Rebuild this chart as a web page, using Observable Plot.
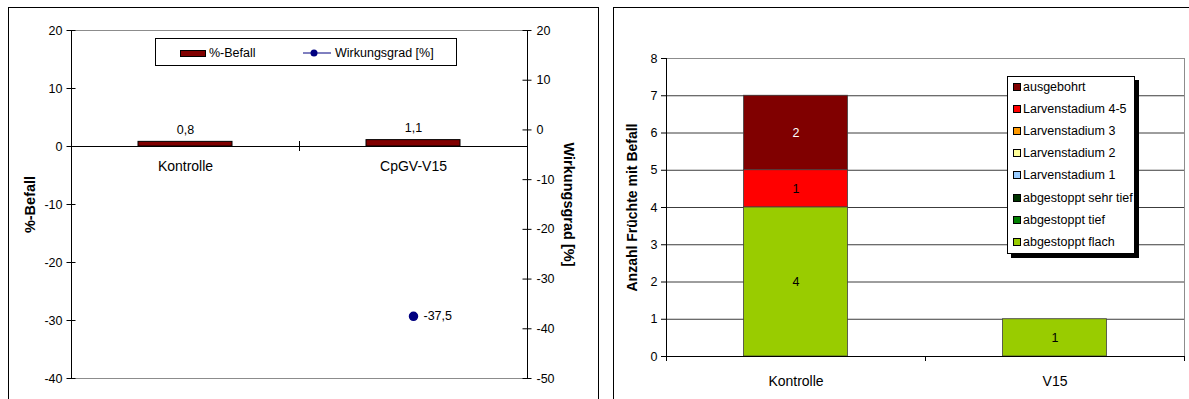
<!DOCTYPE html>
<html>
<head>
<meta charset="utf-8">
<script src="https://cdn.jsdelivr.net/npm/d3@7"></script>
<script src="https://cdn.jsdelivr.net/npm/@observablehq/plot@0.6"></script>
<style>
  body { margin: 0; background: #fff; font-family: "Liberation Sans", Arial, sans-serif; color: #000; }
  #wrap { position: relative; width: 1189px; height: 399px; overflow: hidden; background: #fff; }
  .panel { position: absolute; border: 1px solid #000; box-sizing: border-box; background: #fff; }
  .chart { position: absolute; }
  .legend { position: absolute; background: #fff; border: 1px solid #000; box-sizing: border-box; font-size: 12.5px; }
  .legend .item { position: absolute; white-space: nowrap; line-height: 14px; }
  .legend .sw { position: absolute; box-sizing: border-box; border: 1px solid #000; }
</style>
</head>
<body>
<div id="wrap"></div>
<script>
// %-Befall and Wirkungsgrad per variant
const categories1 = ["Kontrolle", "CpGV-V15"];
const befall = [0.8, 1.1];
const wirkungsgrad = [null, -37.5];
const leftTicks = [20, 10, 0, -10, -20, -30, -40];
const rightTicks = [20, 10, 0, -10, -20, -30, -40, -50];

// fruit counts per damage class
const categories2 = ["Kontrolle", "V15"];
const stages = ["ausgebohrt", "Larvenstadium 4-5", "Larvenstadium 3", "Larvenstadium 2",
                "Larvenstadium 1", "abgestoppt sehr tief", "abgestoppt tief", "abgestoppt flach"];
const stageColors = ["#800000", "#ff0000", "#ff9900", "#ffff99", "#99ccff", "#003300", "#008000", "#99cc00"];
const countsKontrolle = [2, 1, 0, 0, 0, 0, 0, 4];
const countsV15 = [0, 0, 0, 0, 0, 0, 0, 1];
const countTicks = [0, 1, 2, 3, 4, 5, 6, 7, 8];

const font = "'Liberation Sans', Arial, sans-serif";
const tickFont = 12.5;
const comma = (v) => String(v).replace(".", ",");
const wrap = document.getElementById("wrap");

function place(node, left, top) {
  node.classList.add("chart");
  node.style.left = left + "px";
  node.style.top = top + "px";
  wrap.appendChild(node);
}
function panel(left, top, width, height) {
  const p = document.createElement("div");
  p.className = "panel";
  Object.assign(p.style, {left: left + "px", top: top + "px", width: width + "px", height: height + "px"});
  wrap.appendChild(p);
}
// short tick marks on a vertical frame edge, drawn as clipped horizontal rules
function edgeTicks(values, y, plotWidth, side, outside, inside) {
  return side === "left"
    ? Plot.ruleY(values, {y, insetLeft: -outside, insetRight: plotWidth - inside, stroke: "#000"})
    : Plot.ruleY(values, {y, insetRight: -outside, insetLeft: plotWidth - inside, stroke: "#000"});
}

// ---------- left chart: bars + dot on a secondary axis ----------
const yDom = [-40, 20];
const rDom = [-50, 20];
const toLeft = (r) => yDom[0] + (r - rDom[0]) * (yDom[1] - yDom[0]) / (rDom[1] - rDom[0]);

const befallRows = categories1.map((cat, i) => ({cat, value: befall[i]}));
const wgRows = categories1.map((cat, i) => ({cat, value: wirkungsgrad[i]})).filter((d) => d.value != null);

const L = {width: 591, height: 392, marginLeft: 63, marginRight: 72, marginTop: 23, marginBottom: 21};
const pw1 = L.width - L.marginLeft - L.marginRight;
const bw1 = pw1 / categories1.length;
const pxPerUnit1 = (L.height - L.marginTop - L.marginBottom) / (yDom[1] - yDom[0]);

panel(8, 7, 591, 400);
const chart1 = Plot.plot({
  ...L,
  style: {fontFamily: font, fontSize: "12px", background: "transparent", color: "#000"},
  x: {type: "band", domain: categories1, padding: 0, axis: null},
  y: {domain: yDom, axis: null},
  marks: [
    Plot.ruleY([yDom[1], yDom[0]], {stroke: "#8c8c8c"}),
    Plot.ruleX(categories1.slice(0, 1), {x: (d) => d, dx: -bw1 / 2, stroke: "#000"}),
    Plot.ruleX(categories1.slice(-1), {x: (d) => d, dx: bw1 / 2, stroke: "#000"}),
    Plot.ruleY([0], {stroke: "#000"}),
    // category divider tick crossing the zero line
    Plot.ruleX(categories1.slice(1), {x: (d) => d, y1: -5 / pxPerUnit1, y2: 5 / pxPerUnit1, dx: -bw1 / 2, stroke: "#000"}),
    Plot.barY(befallRows, {x: "cat", y: "value", fill: "#800000", stroke: "#000", strokeWidth: 1,
                           insetLeft: 67, insetRight: 67}),
    Plot.text(befallRows, {x: "cat", y: "value", text: (d) => comma(d.value), dy: -12, fontSize: tickFont}),
    Plot.text(categories1, {x: (d) => d, y: () => 0, text: (d) => d, dy: 20, fontSize: 14}),
    Plot.dot(wgRows, {x: "cat", y: (d) => toLeft(d.value), r: 4, fill: "#000080", stroke: "#000080"}),
    Plot.text(wgRows, {x: "cat", y: (d) => toLeft(d.value), text: (d) => comma(d.value),
                       dx: 10, textAnchor: "start", fontSize: tickFont}),
    // left axis (%-Befall)
    edgeTicks(leftTicks, (d) => d, pw1, "left", 4.5, 4.5),
    Plot.text(leftTicks, {y: (d) => d, frameAnchor: "left", dx: -9, textAnchor: "end",
                          lineAnchor: "middle", text: (d) => String(d), fontSize: tickFont}),
    // right axis (Wirkungsgrad)
    edgeTicks(rightTicks, (d) => toLeft(d), pw1, "right", 4.5, 4.5),
    Plot.text(rightTicks, {y: (d) => toLeft(d), frameAnchor: "right", dx: 9, textAnchor: "start",
                           lineAnchor: "middle", text: (d) => String(d), fontSize: tickFont}),
    Plot.text(["%-Befall"], {frameAnchor: "left", text: (d) => d, rotate: -90, dx: -41,
                             textAnchor: "middle", lineAnchor: "middle", fontWeight: "bold", fontSize: 14.5}),
    Plot.text(["Wirkungsgrad [%]"], {frameAnchor: "right", text: (d) => d, rotate: 90, dx: 41,
                                     textAnchor: "middle", lineAnchor: "middle", fontWeight: "bold", fontSize: 14.5})
  ]
});
place(chart1, 8, 7);

// legend of the left chart
const leg1 = document.createElement("div");
leg1.className = "legend";
Object.assign(leg1.style, {left: "155px", top: "38px", width: "302px", height: "28px"});
leg1.innerHTML = `
  <div class="sw" style="left:24px;top:11px;width:26px;height:7px;background:#800000"></div>
  <div class="item" style="left:53px;top:7px">%-Befall</div>
  <svg style="position:absolute;left:147px;top:9px" width="30" height="10">
    <line x1="0" y1="5" x2="28" y2="5" stroke="#000080" stroke-width="1"/>
    <circle cx="11" cy="5" r="3.5" fill="#000080"/>
  </svg>
  <div class="item" style="left:179px;top:7px">Wirkungsgrad [%]</div>`;
wrap.appendChild(leg1);

// ---------- right chart: stacked counts ----------
const countRows = [];
categories2.forEach((cat, ci) => {
  const counts = ci === 0 ? countsKontrolle : countsV15;
  stages.forEach((stage, si) => countRows.push({cat, stage, n: counts[si]}));
});
const stackOrder = stages.slice().reverse();

const R = {width: 576, height: 392, marginLeft: 53, marginRight: 5, marginTop: 51, marginBottom: 43};
const pw2 = R.width - R.marginLeft - R.marginRight;
const bw2 = pw2 / categories2.length;
const pxPerUnit2 = (R.height - R.marginTop - R.marginBottom) / 8;

panel(613, 7, 600, 400);
const chart2 = Plot.plot({
  ...R,
  style: {fontFamily: font, fontSize: "12px", background: "transparent", color: "#000"},
  x: {type: "band", domain: categories2, padding: 0, axis: null},
  y: {domain: [0, 8], axis: null},
  color: {domain: stages, range: stageColors},
  marks: [
    Plot.ruleY(countTicks.slice(1, -1), {stroke: "#3c3c3c"}),
    Plot.ruleY([8], {stroke: "#8c8c8c"}),
    Plot.ruleX(categories2.slice(-1), {x: (d) => d, dx: bw2 / 2, stroke: "#8c8c8c"}),
    Plot.barY(countRows, {x: "cat", y: "n", fill: "stage", order: stackOrder, stroke: "#404040",
                          strokeWidth: 0.8, insetLeft: 77.5, insetRight: 77.5}),
    Plot.text(countRows, Plot.stackY({x: "cat", y: "n", z: "stage", order: stackOrder, fill: "#fff",
                                      text: (d) => (d.n > 0 && d.stage === "ausgebohrt" ? d.n : ""), fontSize: tickFont})),
    Plot.text(countRows, Plot.stackY({x: "cat", y: "n", z: "stage", order: stackOrder, fill: "#000",
                                      text: (d) => (d.n > 0 && d.stage !== "ausgebohrt" ? d.n : ""), fontSize: tickFont})),
    Plot.ruleX(categories2.slice(0, 1), {x: (d) => d, dx: -bw2 / 2, stroke: "#000"}),
    Plot.ruleY([0], {stroke: "#000"}),
    edgeTicks(countTicks, (d) => d, pw2, "left", 5, 0),
    Plot.text(countTicks, {y: (d) => d, frameAnchor: "left", dx: -9, textAnchor: "end",
                           lineAnchor: "middle", text: (d) => String(d), fontSize: tickFont}),
    Plot.ruleX(categories2, {x: (d) => d, y1: 0, y2: -5 / pxPerUnit2, dx: -bw2 / 2, stroke: "#000"}),
    Plot.ruleX(categories2.slice(-1), {x: (d) => d, y1: 0, y2: -5 / pxPerUnit2, dx: bw2 / 2, stroke: "#000"}),
    Plot.text(categories2, {x: (d) => d, frameAnchor: "bottom", dy: 25, lineAnchor: "middle",
                            text: (d) => d, fontSize: 14}),
    Plot.text(["Anzahl Früchte mit Befall"], {frameAnchor: "left", text: (d) => d, rotate: -90, dx: -34,
                                              textAnchor: "middle", lineAnchor: "middle",
                                              fontWeight: "bold", fontSize: 14})
  ]
});
place(chart2, 613, 7);

// legend of the right chart
const leg2 = document.createElement("div");
leg2.className = "legend";
Object.assign(leg2.style, {left: "1007px", top: "76px", width: "128px", height: "178px",
                           boxShadow: "4px 4px 0 #000", overflow: "hidden"});
leg2.innerHTML = stages.map((s, i) => `
  <div class="sw" style="left:5px;top:${6 + i * 22.1}px;width:8px;height:8px;background:${stageColors[i]}"></div>
  <div class="item" style="left:15px;top:${3 + i * 22.1}px">${s}</div>`).join("");
wrap.appendChild(leg2);
</script>
</body>
</html>
